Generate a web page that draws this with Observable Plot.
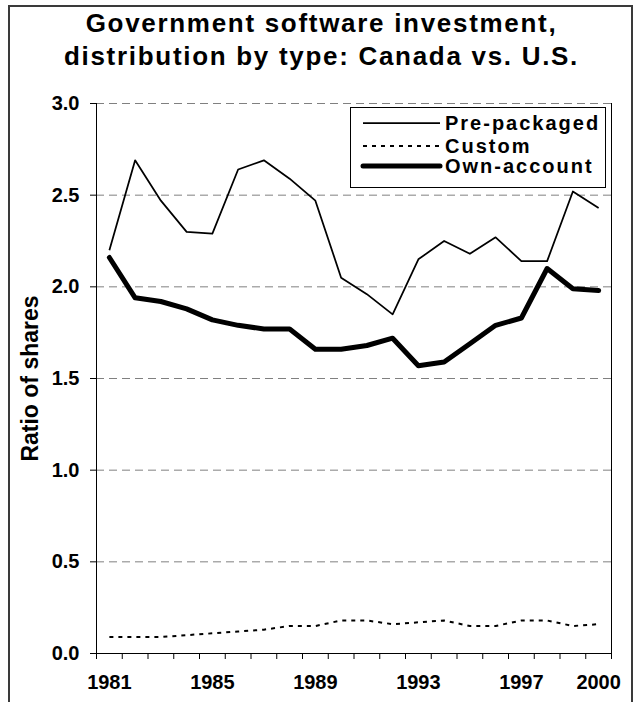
<!DOCTYPE html>
<html><head><meta charset="utf-8">
<script src="https://cdn.jsdelivr.net/npm/d3@7"></script>
<script src="https://cdn.jsdelivr.net/npm/@observablehq/plot@0.6"></script>
<style>
html,body{margin:0;padding:0;background:#fff;}
#wrap{position:relative;width:639px;height:702px;overflow:hidden;background:#fff;font-family:"Liberation Sans",Arial,sans-serif;}
#chart{position:absolute;left:0;top:0;}
#frame{position:absolute;left:8px;top:5px;width:625px;height:760px;border:2px solid #3a3a3a;border-bottom:none;box-sizing:border-box;pointer-events:none;}
#title{position:absolute;left:0;top:7px;width:643px;text-align:center;font-weight:bold;font-size:26px;line-height:33px;letter-spacing:1.7px;color:#000;}
#legend{position:absolute;left:350px;top:107px;}
</style>
</head><body>
<div id="wrap">
  <div id="chart"></div>
  <div id="title">Government software investment,<br>distribution by type: Canada vs. U.S.</div>
  <div id="legend"></div>
  <div id="frame"></div>
</div>
<script>
const years = [1981,1982,1983,1984,1985,1986,1987,1988,1989,1990,1991,1992,1993,1994,1995,1996,1997,1998,1999,2000];
const prePackaged = [2.20,2.69,2.47,2.30,2.29,2.64,2.69,2.59,2.47,2.05,1.96,1.85,2.15,2.25,2.18,2.27,2.14,2.14,2.52,2.43];
const custom = [0.09,0.09,0.09,0.10,0.11,0.12,0.13,0.15,0.15,0.18,0.18,0.16,0.17,0.18,0.15,0.15,0.18,0.18,0.15,0.16];
const ownAccount = [2.16,1.94,1.92,1.88,1.82,1.79,1.77,1.77,1.66,1.66,1.68,1.72,1.57,1.59,1.69,1.79,1.83,2.10,1.99,1.98];
const seriesNames = ["Pre-packaged","Custom","Own-account"];
const yTicks = [0,0.5,1.0,1.5,2.0,2.5,3.0];
const xTickLabels = [1981,1985,1989,1993,1997,2000];
const yLabel = "Ratio of shares";

const styles = {
  "Pre-packaged": {stroke:"#000", strokeWidth:1.75, dash:null},
  "Custom": {stroke:"#000", strokeWidth:2, dash:"4,5"},
  "Own-account": {stroke:"#000", strokeWidth:5, dash:null}
};
const valuesBySeries = {"Pre-packaged": prePackaged, "Custom": custom, "Own-account": ownAccount};
const rows = seriesNames.flatMap(s => years.map((y,i) => ({series:s, year:y, value:valuesBySeries[s][i]})));

const xMin = years[0] - 0.5, xMax = years[years.length-1] + 0.5;
const boundaries = years.map(y => y - 0.5).concat([xMax]);

const font = "'Liberation Sans', Arial, sans-serif";
const lineMarks = seriesNames.map(s => Plot.line(rows.filter(r => r.series === s), {
  x:"year", y:"value", stroke:styles[s].stroke, strokeWidth:styles[s].strokeWidth,
  strokeDasharray: styles[s].dash || undefined, strokeLinejoin:"round",
  strokeLinecap: s === "Own-account" ? "round" : "butt", curve:"linear"
}));

const chart = Plot.plot({
  width:639, height:702,
  marginLeft:96, marginRight:28, marginTop:103, marginBottom:49,
  style:{background:"transparent", fontFamily:font, color:"#000"},
  x:{type:"linear", domain:[xMin, xMax], axis:null},
  y:{type:"linear", domain:[0,3], axis:null},
  marks:[
    Plot.gridY(yTicks.filter(v => v > 0), {stroke:"#808080", strokeOpacity:1, strokeWidth:1, strokeDasharray:"8,5"}),
    ...lineMarks,
    Plot.ruleX([xMin], {stroke:"#000", strokeWidth:1}),
    Plot.ruleX([xMax], {stroke:"#000", strokeWidth:1}),
    Plot.ruleY([0], {stroke:"#000", strokeWidth:1}),
    Plot.axisY(yTicks, {tickSize:6, tickPadding:11, tickFormat:d => d.toFixed(1), fontSize:20, fontWeight:"bold", label:null, stroke:"#000"}),
    Plot.axisX(boundaries, {tickSize:6, tickFormat:() => "", label:null, stroke:"#000"}),
    Plot.axisX(xTickLabels, {tickSize:0, tickPadding:21, tickFormat:d => String(d), fontSize:20, fontWeight:"bold", label:null}),
    Plot.text([yLabel], {frameAnchor:"left", dx:-66, rotate:-90, textAnchor:"middle", fontSize:23, fontWeight:"bold", fill:"#000", letterSpacing:"1.4px"})
  ]
});
document.getElementById("chart").appendChild(chart);

// legend
const lg = d3.select("#legend").append("svg").attr("width", 256).attr("height", 81);
lg.append("rect").attr("x",0.5).attr("y",0.5).attr("width",255).attr("height",80).attr("fill","#fff").attr("stroke","#000").attr("stroke-width",1);
const rowY = [16, 39, 59];
seriesNames.forEach((s,i) => {
  const st = styles[s];
  lg.append("line").attr("x1",13).attr("x2",90).attr("y1",rowY[i]).attr("y2",rowY[i])
    .attr("stroke",st.stroke).attr("stroke-width",st.strokeWidth)
    .attr("stroke-dasharray", st.dash).attr("stroke-linecap", s === "Own-account" ? "round" : "butt");
  lg.append("text").attr("x",95).attr("y",rowY[i]+7).text(s)
    .attr("font-family",font).attr("font-size",20).attr("font-weight","bold").attr("letter-spacing","2px");
});
</script>
</body></html>
